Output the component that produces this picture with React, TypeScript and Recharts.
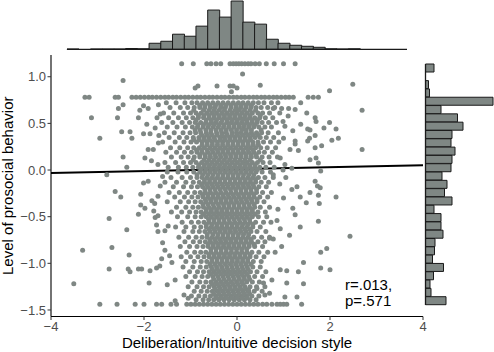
import React from 'react';
import { ScatterChart, Scatter, BarChart, Bar, XAxis, YAxis, ReferenceLine, Label } from 'recharts';

const FONT = '"Liberation Sans", Arial, Helvetica, sans-serif';
const DOT = '#7f8784';
const EDGE = '#1a1a1a';

// marginal histogram of the decision style score, left to right
const xBinMids = [-3.53, -3.28, -3.03, -2.77, -2.52, -2.27, -2.02, -1.77, -1.51, -1.26, -1.01, -0.76, -0.5, -0.25, 0, 0.25, 0.5, 0.76, 1.01, 1.26, 1.51, 1.77, 2.02, 2.27, 2.52, 2.77, 3.03, 3.28, 3.53];
const xBinCounts = [1, 0, 1, 1, 1, 3, 2, 24, 32, 60, 52, 92, 156, 128, 192, 108, 100, 40, 24, 16, 12, 8, 2, 1, 2, 0, 0, 0, 0];

// marginal histogram of prosocial behavior, top to bottom
const yBinMids = [1.09, 1.0, 0.91, 0.82, 0.73, 0.65, 0.56, 0.47, 0.38, 0.29, 0.2, 0.11, 0.02, -0.07, -0.16, -0.24, -0.33, -0.42, -0.51, -0.6, -0.69, -0.78, -0.87, -0.96, -1.04, -1.13, -1.22, -1.31, -1.4];
const yBinCounts = [17, 0, 6, 8, 135, 31, 64, 75, 53, 51, 59, 53, 51, 33, 43, 38, 53, 17, 31, 31, 35, 19, 18, 14, 36, 16, 9, 11, 41];

const xTicks = [-4, -2, 0, 2, 4];
const yTicks = [-1.5, -1, -0.5, 0, 0.5, 1];

// levels where many answers pile up
const bandRowY = [1.14, 0.78, -1.44];
const bandRowX = [
  [-1.19, -0.94, -0.65, -0.56, -0.45, -0.35, -0.15, -0.08, -0.02, 0.04, 0.1, 0.17, 0.24, 0.3, 0.39, 0.48, 0.63, 0.8, 1.0, 1.25],
  [-3.27, -3.18, -2.62, -2.55, -2.26, -2.17, -2.08, -1.99, -1.9, -1.82, -1.73, -1.64, -1.55, -1.47, -1.38, -1.3, -1.21, -1.12, -1.04, -0.95, -0.86, -0.78, -0.69, -0.6, -0.52, -0.43, -0.34, -0.26, -0.17, -0.08, 0.0, 0.09, 0.17, 0.26, 0.35, 0.43, 0.52, 0.6, 0.69, 0.78, 0.86, 0.95, 1.04, 1.12, 1.21, 1.53, 1.64, 1.75],
  [-2.95, -2.58, -2.19, -2.0, -1.73, -1.62, -1.42, -1.3, -1.08, -0.99, -0.9, -0.81, -0.72, -0.63, -0.54, -0.45, -0.36, -0.27, -0.18, -0.09, 0.0, 0.09, 0.18, 0.27, 0.36, 0.45, 0.55, 0.64, 0.75, 0.86, 0.93, 1.0, 1.07, 1.39],
];

// the dense middle of the cloud, row by row
const coreRowY = [0.72, 0.67, 0.61, 0.56, 0.51, 0.46, 0.4, 0.35, 0.3, 0.24, 0.19, 0.14, 0.08, 0.03, -0.02, -0.08, -0.13, -0.18, -0.24, -0.29, -0.34, -0.4, -0.45, -0.5, -0.56, -0.61, -0.66, -0.72, -0.77, -0.82, -0.88, -0.93, -0.98, -1.04, -1.09, -1.14, -1.2, -1.25, -1.3, -1.35, -1.39];
const coreRowX = [
  [-1.52, -1.31, -1.12, -0.97, -0.86, -0.74, -0.63, -0.52, -0.41, -0.3, -0.19, -0.08, 0.03, 0.13, 0.24, 0.35, 0.46, 0.58, 0.74, 0.88],
  [-1.44, -1.22, -1.06, -0.92, -0.8, -0.69, -0.57, -0.47, -0.35, -0.25, -0.13, -0.02, 0.08, 0.19, 0.3, 0.41, 0.52, 0.66, 0.81],
  [-1.58, -1.36, -1.15, -1.0, -0.88, -0.77, -0.65, -0.54, -0.44, -0.32, -0.21, -0.1, 0.0, 0.11, 0.22, 0.33, 0.45, 0.55, 0.7, 0.92],
  [-1.47, -1.26, -1.09, -0.95, -0.83, -0.72, -0.6, -0.49, -0.38, -0.27, -0.16, -0.05, 0.06, 0.16, 0.27, 0.38, 0.49, 0.61, 0.77],
  [-1.62, -1.38, -1.18, -1.02, -0.9, -0.78, -0.67, -0.55, -0.45, -0.34, -0.22, -0.12, -0.01, 0.1, 0.21, 0.32, 0.43, 0.54, 0.68, 0.85],
  [-1.5, -1.29, -1.11, -0.96, -0.85, -0.73, -0.62, -0.51, -0.4, -0.29, -0.18, -0.07, 0.04, 0.14, 0.25, 0.36, 0.47, 0.6, 0.74],
  [-1.56, -1.35, -1.16, -1.01, -0.89, -0.78, -0.66, -0.56, -0.44, -0.33, -0.23, -0.11, -0.01, 0.09, 0.2, 0.31, 0.42, 0.53, 0.67, 0.89],
  [-1.46, -1.24, -1.08, -0.94, -0.82, -0.71, -0.6, -0.49, -0.37, -0.27, -0.16, -0.05, 0.06, 0.17, 0.28, 0.39, 0.5, 0.63, 0.79],
  [-1.6, -1.33, -1.14, -0.99, -0.87, -0.75, -0.64, -0.53, -0.42, -0.31, -0.2, -0.09, 0.02, 0.12, 0.23, 0.34, 0.45, 0.57, 0.72, 0.9],
  [-1.43, -1.23, -1.06, -0.93, -0.81, -0.7, -0.58, -0.47, -0.36, -0.25, -0.14, -0.03, 0.08, 0.19, 0.29, 0.4, 0.51, 0.65, 0.83],
  [-1.53, -1.3, -1.13, -0.98, -0.86, -0.75, -0.63, -0.52, -0.41, -0.3, -0.19, -0.08, 0.03, 0.14, 0.25, 0.36, 0.47, 0.59, 0.76],
  [-1.41, -1.2, -1.05, -0.92, -0.8, -0.68, -0.57, -0.46, -0.35, -0.24, -0.13, -0.02, 0.09, 0.2, 0.31, 0.42, 0.54, 0.69, 0.87],
  [-1.55, -1.32, -1.15, -1.0, -0.88, -0.76, -0.65, -0.54, -0.43, -0.32, -0.21, -0.1, 0.01, 0.12, 0.22, 0.33, 0.44, 0.56, 0.71],
  [-1.48, -1.26, -1.09, -0.95, -0.83, -0.72, -0.61, -0.5, -0.39, -0.28, -0.17, -0.06, 0.05, 0.16, 0.27, 0.38, 0.49, 0.62, 0.8],
  [-1.5, -1.27, -1.08, -0.93, -0.8, -0.69, -0.58, -0.47, -0.36, -0.25, -0.14, -0.03, 0.08, 0.19, 0.3, 0.41, 0.54, 0.72],
  [-1.42, -1.18, -1.0, -0.86, -0.75, -0.64, -0.53, -0.42, -0.31, -0.2, -0.09, 0.02, 0.13, 0.24, 0.35, 0.46, 0.6, 0.78],
  [-1.55, -1.3, -1.1, -0.94, -0.81, -0.7, -0.59, -0.48, -0.37, -0.26, -0.15, -0.04, 0.07, 0.18, 0.29, 0.4, 0.52, 0.68],
  [-1.37, -1.15, -0.98, -0.85, -0.74, -0.63, -0.52, -0.41, -0.3, -0.19, -0.08, 0.03, 0.14, 0.25, 0.36, 0.47, 0.63],
  [-1.46, -1.24, -1.06, -0.91, -0.79, -0.68, -0.57, -0.46, -0.35, -0.24, -0.13, -0.02, 0.09, 0.2, 0.31, 0.42, 0.55, 0.74],
  [-1.34, -1.13, -0.97, -0.84, -0.73, -0.62, -0.51, -0.4, -0.29, -0.18, -0.07, 0.04, 0.15, 0.26, 0.37, 0.49, 0.66],
  [-1.5, -1.22, -1.04, -0.9, -0.78, -0.67, -0.56, -0.45, -0.34, -0.23, -0.12, -0.01, 0.1, 0.21, 0.32, 0.43, 0.58],
  [-1.3, -1.1, -0.95, -0.83, -0.72, -0.61, -0.5, -0.39, -0.28, -0.17, -0.06, 0.05, 0.16, 0.27, 0.38, 0.5, 0.7],
  [-1.41, -1.19, -1.02, -0.88, -0.77, -0.66, -0.55, -0.44, -0.33, -0.22, -0.11, 0.0, 0.11, 0.22, 0.33, 0.45, 0.61],
  [-1.28, -1.06, -0.9, -0.77, -0.66, -0.55, -0.44, -0.33, -0.22, -0.11, 0.0, 0.11, 0.22, 0.33, 0.46, 0.64],
  [-1.18, -0.98, -0.83, -0.71, -0.6, -0.49, -0.38, -0.27, -0.16, -0.05, 0.06, 0.17, 0.28, 0.4, 0.57, 0.73],
  [-1.32, -1.1, -0.92, -0.78, -0.66, -0.55, -0.44, -0.33, -0.22, -0.11, 0.0, 0.11, 0.22, 0.34, 0.5],
  [-1.14, -0.95, -0.81, -0.69, -0.58, -0.47, -0.36, -0.25, -0.14, -0.03, 0.08, 0.19, 0.3, 0.43, 0.62],
  [-1.25, -1.04, -0.88, -0.75, -0.64, -0.53, -0.42, -0.31, -0.2, -0.09, 0.02, 0.13, 0.24, 0.36, 0.53, 0.7],
  [-1.12, -0.94, -0.8, -0.68, -0.57, -0.46, -0.35, -0.24, -0.13, -0.02, 0.09, 0.2, 0.31, 0.45, 0.6],
  [-1.22, -1.02, -0.86, -0.73, -0.62, -0.51, -0.4, -0.29, -0.18, -0.07, 0.04, 0.15, 0.26, 0.38, 0.55],
  [-1.08, -0.91, -0.78, -0.67, -0.56, -0.45, -0.34, -0.23, -0.12, -0.01, 0.1, 0.21, 0.32, 0.47, 0.66],
  [-1.2, -1.0, -0.84, -0.71, -0.6, -0.49, -0.38, -0.27, -0.16, -0.05, 0.06, 0.17, 0.28, 0.41, 0.58],
  [-1.1, -0.92, -0.77, -0.65, -0.54, -0.43, -0.32, -0.21, -0.1, 0.01, 0.12, 0.23, 0.35, 0.52],
  [-1.16, -0.95, -0.79, -0.66, -0.55, -0.44, -0.33, -0.22, -0.11, 0.0, 0.11, 0.22, 0.34, 0.5],
  [-1.02, -0.85, -0.72, -0.6, -0.49, -0.38, -0.27, -0.16, -0.05, 0.06, 0.17, 0.29, 0.43, 0.62],
  [-1.1, -0.9, -0.75, -0.63, -0.52, -0.41, -0.3, -0.19, -0.08, 0.03, 0.14, 0.25, 0.38, 0.55],
  [-0.97, -0.8, -0.67, -0.56, -0.45, -0.34, -0.23, -0.12, -0.01, 0.1, 0.21, 0.33, 0.48],
  [-1.05, -0.86, -0.72, -0.6, -0.49, -0.38, -0.27, -0.16, -0.05, 0.06, 0.17, 0.28, 0.42, 0.6],
  [-0.92, -0.77, -0.64, -0.53, -0.42, -0.31, -0.2, -0.09, 0.02, 0.13, 0.24, 0.37, 0.54],
  [-0.98, -0.82, -0.69, -0.57, -0.46, -0.35, -0.24, -0.13, -0.02, 0.09, 0.2, 0.32, 0.47],
  [-0.88, -0.73, -0.61, -0.5, -0.39, -0.28, -0.17, -0.06, 0.05, 0.16, 0.28, 0.41],
];

// more answers packed between the rows above, where the cloud is thickest
const fillRowY = [0.695, 0.64, 0.585, 0.535, 0.485, 0.43, 0.375, 0.325, 0.27, 0.215, 0.165, 0.11, 0.055, 0.005, -0.05, -0.105, -0.155, -0.21, -0.265, -0.315, -0.37, -0.425, -0.475, -0.53, -0.585, -0.635, -0.69, -0.745, -0.795, -0.85, -0.905, -0.955, -1.01, -1.065, -1.115, -1.17, -1.225, -1.275, -1.325, -1.37];
const fillRowX = [
  [-0.8, -0.69, -0.58, -0.46, -0.35, -0.24, -0.13, -0.02, 0.09, 0.2, 0.31],
  [-0.93, -0.72, -0.6, -0.49, -0.38, -0.27, -0.15, -0.04, 0.05, 0.16, 0.28, 0.4],
  [-0.83, -0.71, -0.6, -0.49, -0.38, -0.27, -0.16, -0.05, 0.06, 0.17, 0.28, 0.5],
  [-0.88, -0.66, -0.55, -0.44, -0.32, -0.21, -0.1, 0.01, 0.12, 0.22, 0.33, 0.44],
  [-0.84, -0.72, -0.61, -0.5, -0.39, -0.28, -0.17, -0.06, 0.05, 0.16, 0.27, 0.38],
  [-0.9, -0.79, -0.67, -0.56, -0.45, -0.34, -0.23, -0.12, -0.01, 0.1, 0.2, 0.31, 0.52],
  [-0.76, -0.65, -0.54, -0.43, -0.32, -0.21, -0.1, 0.01, 0.12, 0.23, 0.34, 0.45],
  [-0.93, -0.81, -0.7, -0.59, -0.48, -0.36, -0.26, -0.15, -0.04, 0.07, 0.18, 0.29],
  [-0.75, -0.64, -0.53, -0.42, -0.31, -0.2, -0.09, 0.02, 0.13, 0.24, 0.35, 0.46],
  [-0.87, -0.76, -0.64, -0.53, -0.42, -0.31, -0.2, -0.09, 0.02, 0.13, 0.24, 0.35],
  [-0.8, -0.69, -0.58, -0.47, -0.36, -0.25, -0.14, -0.03, 0.08, 0.19, 0.3, 0.41],
  [-0.94, -0.71, -0.6, -0.49, -0.38, -0.27, -0.16, -0.05, 0.06, 0.17, 0.28, 0.5],
  [-0.82, -0.7, -0.59, -0.48, -0.37, -0.26, -0.15, -0.04, 0.07, 0.18, 0.28, 0.39],
  [-0.77, -0.66, -0.55, -0.44, -0.33, -0.22, -0.11, 0.0, 0.11, 0.22, 0.33, 0.44],
  [-0.86, -0.74, -0.63, -0.52, -0.41, -0.3, -0.19, -0.08, 0.03, 0.14, 0.25, 0.36],
  [-0.7, -0.59, -0.48, -0.37, -0.26, -0.15, -0.04, 0.07, 0.18, 0.29, 0.4],
  [-0.76, -0.65, -0.54, -0.43, -0.32, -0.21, -0.1, 0.01, 0.12, 0.23, 0.34],
  [-0.69, -0.58, -0.47, -0.36, -0.25, -0.14, -0.03, 0.08, 0.19, 0.3, 0.42],
  [-0.74, -0.63, -0.52, -0.41, -0.3, -0.19, -0.08, 0.03, 0.14, 0.25, 0.36],
  [-0.68, -0.57, -0.46, -0.35, -0.24, -0.13, -0.02, 0.09, 0.2, 0.31, 0.43],
  [-0.73, -0.62, -0.51, -0.4, -0.29, -0.18, -0.07, 0.04, 0.15, 0.26, 0.37],
  [-0.66, -0.55, -0.44, -0.33, -0.22, -0.11, 0.0, 0.11, 0.22, 0.33],
  [-0.72, -0.6, -0.49, -0.38, -0.27, -0.16, -0.05, 0.06, 0.17, 0.28, 0.39],
  [-0.61, -0.5, -0.39, -0.28, -0.17, -0.06, 0.05, 0.16, 0.27],
  [-0.66, -0.54, -0.43, -0.32, -0.21, -0.1, 0.01, 0.12, 0.23, 0.34],
  [-0.6, -0.49, -0.38, -0.27, -0.16, -0.05, 0.06, 0.17, 0.28],
  [-0.64, -0.52, -0.41, -0.3, -0.19, -0.08, 0.03, 0.14, 0.25],
  [-0.58, -0.47, -0.36, -0.25, -0.14, -0.03, 0.08, 0.19, 0.3],
  [-0.62, -0.51, -0.4, -0.29, -0.18, -0.07, 0.04, 0.15, 0.26, 0.37],
  [-0.56, -0.45, -0.34, -0.23, -0.12, -0.01, 0.1, 0.21],
  [-0.6, -0.49, -0.38, -0.27, -0.16, -0.05, 0.06, 0.17, 0.28],
  [-0.54, -0.43, -0.32, -0.21, -0.1, 0.01, 0.12, 0.23],
  [-0.58, -0.47, -0.36, -0.25, -0.14, -0.03, 0.08, 0.19, 0.3],
  [-0.53, -0.42, -0.31, -0.2, -0.09, 0.02, 0.13, 0.24],
  [-0.56, -0.45, -0.34, -0.23, -0.12, -0.01, 0.1, 0.21],
  [-0.5, -0.39, -0.28, -0.17, -0.06, 0.05, 0.16, 0.27],
  [-0.53, -0.42, -0.31, -0.2, -0.09, 0.02, 0.13],
  [-0.47, -0.36, -0.25, -0.14, -0.03, 0.08, 0.19],
  [-0.5, -0.39, -0.28, -0.17, -0.06, 0.05, 0.16, 0.27],
  [-0.44, -0.33, -0.22, -0.11, 0.0, 0.11, 0.22],
];

// scattered points outside the dense middle
const strayPoints: [number, number][] = [
  [0.12, 1.03], [-2.45, 0.96], [-0.9, 0.88], [-0.84, 0.9], [-0.43, 0.9], [-0.15, 0.9], [-0.08, 0.9], [0.0, 0.88], [0.5, 0.91], [2.49, 0.92], [1.99, 0.85], [-0.12, 0.84],
  [-2.55, 0.66], [-2.45, 0.7], [-2.09, 0.64], [-2.01, 0.69], [-1.91, 0.66], [-1.69, 0.7], [-3.13, 0.56], [-2.57, 0.56], [-2.12, 0.56], [-1.72, 0.56], [-1.65, 0.6],
  [-2.48, 0.41], [-2.3, 0.41], [-2.95, 0.34], [-2.26, 0.34], [-2.01, 0.39], [-1.87, 0.39], [-1.94, 0.49], [-2.45, 0.14], [-2.37, 0.03], [-2.8, -0.05],
  [-1.91, 0.22], [-1.8, 0.22], [-1.69, 0.29], [-1.98, 0.13], [-1.84, 0.1], [-1.7, 0.06], [-1.76, 0.45], [-1.68, 0.37],
  [0.78, 0.66], [0.96, 0.66], [1.11, 0.66], [1.25, 0.65], [1.37, 0.72], [1.5, 0.61], [1.68, 0.56], [1.7, 0.52], [2.69, 0.64], [1.37, 0.49], [1.52, 0.44], [1.57, 0.43],
  [1.87, 0.45], [1.99, 0.51], [2.13, 0.44], [1.68, 0.37], [1.52, 0.31], [1.56, 0.34], [2.04, 0.32], [2.18, 0.34], [1.25, 0.31], [1.25, 0.28], [1.0, 0.34], [1.03, 0.47],
  [0.99, 0.52], [1.14, 0.22], [1.32, 0.21], [1.68, 0.24], [1.82, 0.26], [2.69, 0.22], [1.57, 0.11], [1.7, 0.13], [1.75, 0.075], [1.8, -0.01], [0.93, 0.13], [1.03, 0.06],
  [1.18, 0.02], [0.78, -0.05], [0.99, 0.0], [1.68, -0.12], [1.1, 0.58], [1.2, 0.42],
  [-2.01, -0.14], [-1.91, -0.12], [-2.62, -0.23], [-2.5, -0.29], [-2.07, -0.26], [-2.07, -0.375], [-1.98, -0.41], [-2.12, -0.475], [-2.75, -0.52], [-2.37, -0.64],
  [-3.32, -0.86], [-2.69, -0.83], [-2.32, -0.91], [-2.75, -1.06], [-2.34, -1.06], [-2.3, -1.09], [-2.12, -1.06], [-2.05, -1.06], [-1.87, -1.08], [-1.73, -1.05],
  [-1.66, -1.03], [-3.51, -1.22], [-1.89, -1.21], [-1.5, -1.23], [-1.33, -1.18], [-1.33, -1.4], [-1.14, -1.34], [-1.05, -1.375],
  [-1.83, -0.33], [-1.77, -0.36], [-1.7, -0.28], [-1.79, -0.44], [-1.76, -0.51], [-1.7, -0.49], [-1.73, -0.59], [-1.7, -0.66], [-1.55, -0.65], [-1.48, -0.6],
  [-1.6, -0.78], [-1.55, -0.86], [-1.45, -0.92], [-1.62, -0.95], [-1.4, -0.99], [-1.65, -0.17], [-1.6, -0.07],
  [2.13, -0.29], [1.75, -0.27], [1.77, -0.36], [1.57, -0.24], [1.36, -0.29], [1.49, -0.35], [1.73, -0.17], [1.79, -0.19], [1.18, -0.21], [1.29, -0.18],
  [1.2, -0.41], [1.25, -0.48], [1.36, -0.61], [1.75, -0.55], [1.13, -0.7], [2.43, -0.71], [1.8, -0.88], [1.93, -0.84], [1.43, -0.99], [1.8, -1.05],
  [2.0, -1.07], [0.93, -1.07], [1.07, -1.08], [1.32, -1.09], [0.75, -1.18], [1.07, -1.21], [1.43, -1.22], [0.78, -0.74], [0.82, -0.88], [0.96, -0.82],
  [0.86, -0.54], [0.93, -0.63], [0.7, -0.73], [0.6, -1.34], [0.7, -1.32], [1.03, -1.36], [1.29, -1.36], [0.25, -1.29], [0.43, -1.27], [0.57, -1.21],
  [0.92, -0.15], [1.0, -0.3], [0.88, -0.42], [1.05, -0.08],
];

const fitLine = [{ x: -4, y: -0.032 }, { x: 4, y: 0.052 }];
const statLines = ['r=.013,', 'p=.571'];

const rowsToPoints = (ys: number[], xs: number[][]) => ys.flatMap((y, i) => xs[i].map((x) => ({ x, y })));

const points = [
  ...rowsToPoints(bandRowY, bandRowX),
  ...rowsToPoints(coreRowY, coreRowX),
  ...rowsToPoints(fillRowY, fillRowX),
  ...strayPoints.map(([x, y]) => ({ x, y })),
];
const xHist = xBinMids.map((mid, i) => ({ mid, count: xBinCounts[i] }));
const yHist = yBinMids.map((mid, i) => ({ mid, count: yBinCounts[i] }));

const signed = (v: number, digits: number) => (v < 0 ? '\u2212' : '') + Math.abs(v).toFixed(digits);

const Dot = (p: any) => <circle cx={p.cx} cy={p.cy} r={2.5} fill={DOT} />;

const tickStyle = { fill: '#4d4d4d', fontSize: 13, fontFamily: FONT };
const titleStyle = { fill: '#000', fontSize: 15, fontFamily: FONT };

const App: React.FC = () => {
  return (
    <div style={{ position: 'absolute', left: 0, top: 0, width: 494, height: 352, background: '#fff', fontFamily: FONT }}>
      <div style={{ position: 'absolute', left: 0, top: 0 }}>
        <ScatterChart width={494} height={352} margin={{ top: 55, right: 71, bottom: 0, left: 0 }}>
          <XAxis
            type="number"
            dataKey="x"
            domain={[-4, 4]}
            ticks={xTicks}
            tickFormatter={(v: number) => signed(v, 0)}
            height={35.5}
            tick={tickStyle}
            tickSize={3.5}
            tickLine={{ stroke: '#333' }}
            axisLine={{ stroke: '#000', strokeWidth: 1.1 }}
          >
            <Label value="Deliberation/Intuitive decision style" position="insideBottom" offset={4} style={titleStyle} />
          </XAxis>
          <YAxis
            type="number"
            dataKey="y"
            domain={[-1.57, 1.233]}
            ticks={yTicks}
            tickFormatter={(v: number) => signed(v, 1)}
            width={51}
            tick={tickStyle}
            tickSize={3.5}
            tickMargin={1.5}
            tickLine={{ stroke: '#333' }}
            axisLine={{ stroke: '#000', strokeWidth: 1.1 }}
          >
            <Label value="Level of prosocial behavior" angle={-90} position="insideLeft" offset={8} style={{ ...titleStyle, textAnchor: 'middle' }} />
          </YAxis>
          <Scatter data={points} shape={Dot} isAnimationActive={false} />
          <ReferenceLine segment={fitLine} stroke="#000" strokeWidth={2} ifOverflow="visible" />
        </ScatterChart>
      </div>

      <div style={{ position: 'absolute', left: 0, top: 0 }}>
        <BarChart width={494} height={52} data={xHist} margin={{ top: 1, right: 87, bottom: 2.7, left: 67 }} barCategoryGap={0}>
          <XAxis dataKey="mid" hide />
          <YAxis hide domain={[0, 192]} />
          <Bar dataKey="count" fill={DOT} stroke={EDGE} strokeWidth={1} isAnimationActive={false} />
          <ReferenceLine y={0} stroke={EDGE} strokeWidth={1.3} />
        </BarChart>
      </div>

      <div style={{ position: 'absolute', left: 0, top: 0 }}>
        <BarChart layout="vertical" width={494} height={352} data={yHist} margin={{ top: 64, right: 0.5, bottom: 47, left: 425.5 }} barCategoryGap={0}>
          <XAxis type="number" hide domain={[0, 136]} />
          <YAxis type="category" dataKey="mid" hide />
          <Bar dataKey="count" fill={DOT} stroke={EDGE} strokeWidth={1} isAnimationActive={false} />
          <ReferenceLine x={0} stroke={EDGE} strokeWidth={1.3} />
        </BarChart>
      </div>

      <div style={{ position: 'absolute', left: 345, top: 277, fontSize: 15, lineHeight: '15.5px', color: '#000' }}>
        {statLines.map((s) => (
          <div key={s}>{s}</div>
        ))}
      </div>
    </div>
  );
};

export default App;
